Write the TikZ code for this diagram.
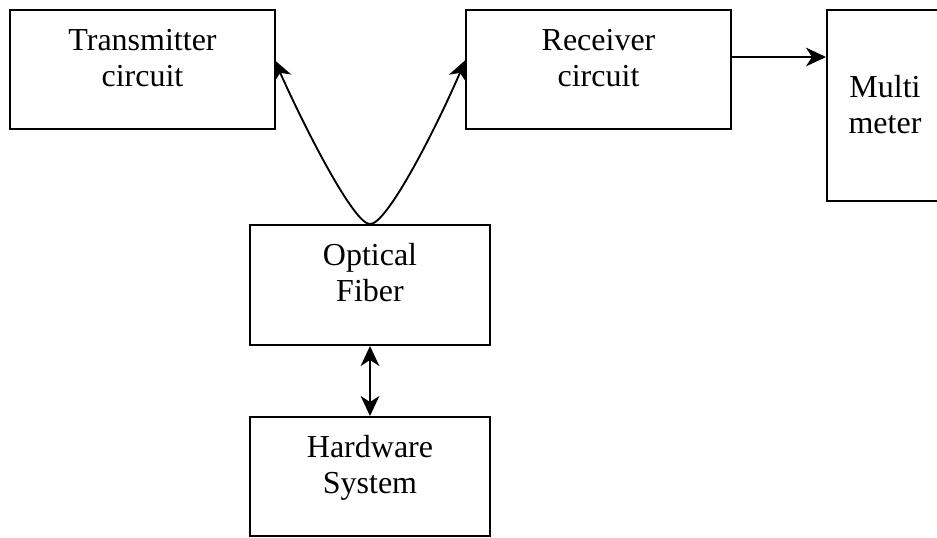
\documentclass[tikz,border=0pt]{standalone}
\usepackage{fontspec}
\setmainfont{Liberation Serif}
\usetikzlibrary{arrows.meta}
\begin{document}
\begin{tikzpicture}[x=0.75pt,y=-0.75pt,
  blk/.style={draw,line width=1.5pt,inner sep=0pt,rectangle},
  txt/.style={align=center,inner sep=0pt,font=\fontsize{24}{27}\selectfont,anchor=base},
  tip/.style={Stealth[length=15pt,width=14pt,inset=4.5pt]},
  arr/.style={line width=1.4pt,-{Stealth[length=15pt,width=14pt,inset=4.5pt]}},
  darr/.style={line width=1.4pt,{Stealth[length=15pt,width=14pt,inset=4.5pt]}-{Stealth[length=15pt,width=14pt,inset=4.5pt]}}]
\useasboundingbox (0,0) rectangle (937,537);
\begin{scope}
\clip (0,0) rectangle (937,537);
\node[blk,minimum width=198.75pt,minimum height=89.25pt] (tx) at (142.5,69.5) {};
\node[blk,minimum width=198.75pt,minimum height=89.25pt] (rx) at (598.5,69.5) {};
\node[blk,minimum width=87pt,minimum height=143.25pt] (mm) at (885,105.5) {};
\node[blk,minimum width=180pt,minimum height=90pt] (of) at (370,285) {};
\node[blk,minimum width=180pt,minimum height=89.25pt] (hw) at (370,476.5) {};
\end{scope}
\node[txt] (txt1) at (142.5,86) {Transmitter\\circuit};
\node[txt] (txt2) at (598.5,86) {Receiver\\circuit};
\node[txt] (txt3) at (885,133) {Multi\\meter};
\node[txt] (txt4) at (370,301) {Optical\\Fiber};
\node[txt] (txt5) at (370,493) {Hardware\\System};
\coordinate (b) at (of.north);
\coordinate (tl) at (274.5,60);
\coordinate (tr) at (465.5,60);
\draw[arr] (b) .. controls (355,225) and (308,135) .. (tl);
\draw[arr] (b) .. controls (386,225) and (433,135) .. (tr);
\draw[arr] (rx.east |- 0,57) -- (mm.west |- 0,57);
\draw[darr] (of.south) -- (hw.north);
\end{tikzpicture}
\end{document}
